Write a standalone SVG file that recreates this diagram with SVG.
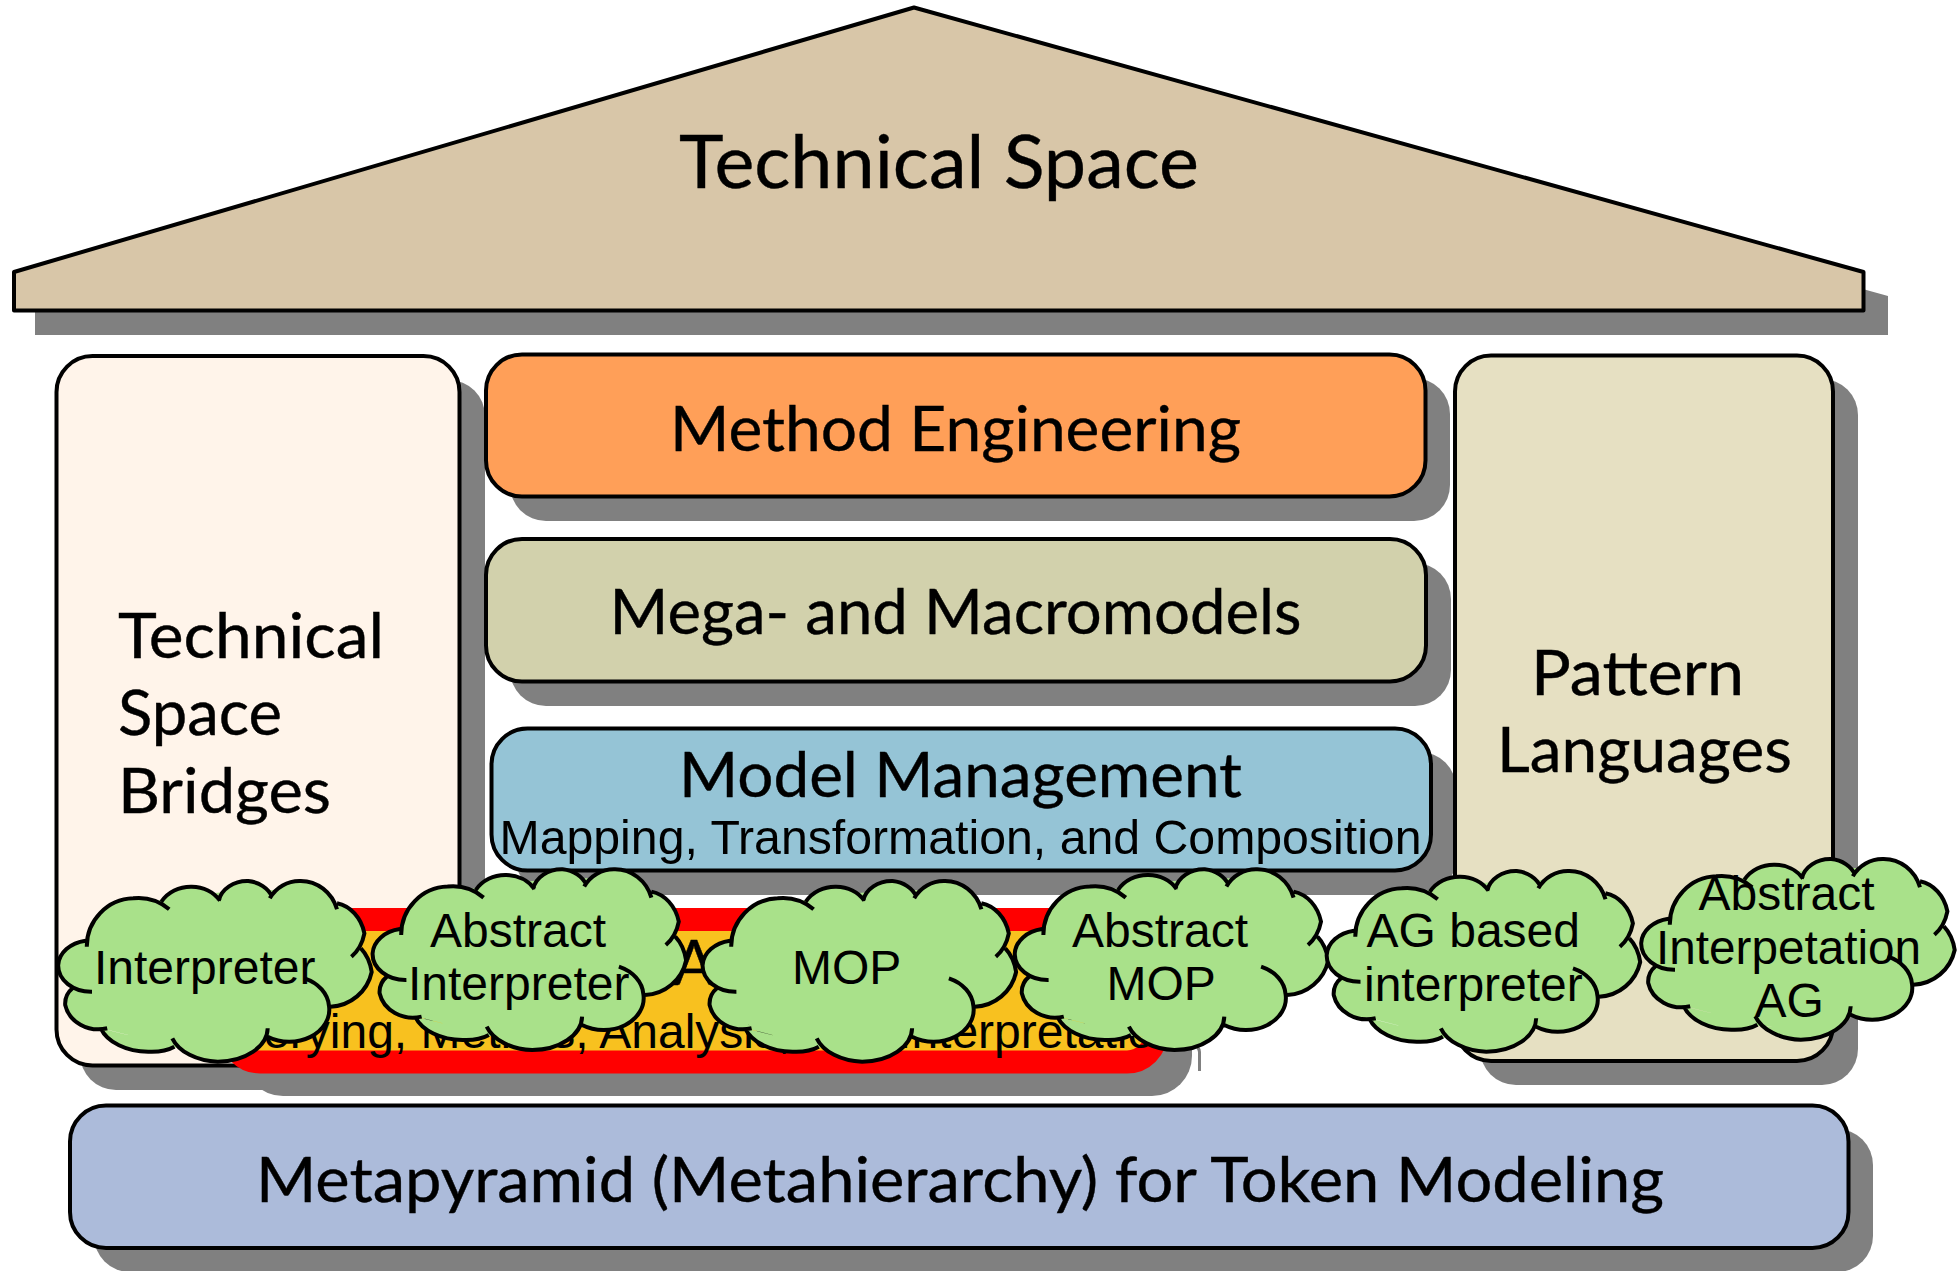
<svg xmlns="http://www.w3.org/2000/svg" width="1957" height="1271" viewBox="0 0 1957 1271">
<style>
.s{fill:#808080}
.b{stroke:#000;stroke-width:4}
.t{font-family:Lato,"Open Sans",sans-serif;font-size:62px;fill:#000;stroke:#000;stroke-width:.4}
.a{font-family:"Liberation Sans",Arial,sans-serif;font-size:48px;fill:#000}
.cf{fill:#A9E18A;stroke:none}
.cl{fill:none;stroke:#000;stroke-width:4}
</style>
<defs>
<path id="fill" d="M86.800 946.700A48 48 0 0 1 133.200 898.300A48 48 0 0 1 169.200 909.300ZM161.400 901.700A34 30 0 0 1 191.800 886.700A34 30 0 0 1 220 900.700ZM218.700 900.700A29 24 0 0 1 248.200 881A29 24 0 0 1 272 896.700ZM269.800 898.300A34 34 0 0 1 300.200 881A38 40 0 0 1 337 909.300ZM337 903.300A34 40 0 0 1 364.400 933.300A34 40 0 0 1 351.400 956.700ZM360.900 948.300A30 40 0 0 1 371.700 972A44 44 0 0 1 330.500 1006.700ZM304.500 978.300A40 32 0 0 1 329 1006A40 32 0 0 1 267.700 1036.700ZM267.700 1028.300A50 34 0 0 1 217.800 1061.700A50 34 0 0 1 172.300 1038.300ZM174.400 1046.700A30 14 0 0 1 148.400 1051.700A50 34 0 0 1 100.700 1028.300ZM107.200 1028.300A34 30 0 0 1 65.200 1005A20 20 0 0 1 72.500 988.300ZM92 991.700A33 26 0 0 1 58.200 965A33 26 0 0 1 85.500 940.700ZM95 930L130 905 192 895 248 890 300 890 345 920 360 970 340 1000 310 1020 280 1030 218 1052 150 1045 95 1020 75 1000 70 965ZM87 947L161 902 220 901 270 898 337 904 361 948 330 1007 268 1037 268 1028 172 1038 175 1047 101 1028 107 1028 73 988 92 992 85 941Z"/>
<path id="lobes" d="M86.800 946.700A48 48 0 0 1 133.200 898.300A48 48 0 0 1 169.200 909.300M161.400 901.700A34 30 0 0 1 191.800 886.700A34 30 0 0 1 220 900.700M218.700 900.700A29 24 0 0 1 248.200 881A29 24 0 0 1 272 896.700M269.800 898.300A34 34 0 0 1 300.200 881A38 40 0 0 1 337 909.300M337 903.300A34 40 0 0 1 364.400 933.300A34 40 0 0 1 351.400 956.700M360.900 948.300A30 40 0 0 1 371.700 972A44 44 0 0 1 330.500 1006.700M304.500 978.300A40 32 0 0 1 329 1006A40 32 0 0 1 267.700 1036.700M267.700 1028.300A50 34 0 0 1 217.800 1061.700A50 34 0 0 1 172.300 1038.300M174.400 1046.700A30 14 0 0 1 148.400 1051.700A50 34 0 0 1 100.700 1028.300M107.200 1028.300A34 30 0 0 1 65.200 1005A20 20 0 0 1 72.500 988.300M92 991.700A33 26 0 0 1 58.200 965A33 26 0 0 1 85.500 940.700"/>
<g id="cloud"><use href="#fill" class="cf"/><use href="#lobes" class="cl"/></g>
</defs>
<g id="roof">
<path class="s" d="M937 32L1888 296V335H35V297Z"/>
<path class="b" fill="#D8C6A8" stroke-linejoin="round" d="M914 7.500L1863.500 272V310.500H14V272Z"/>
<text class="t" x="679" y="188" style="font-size:74px" textLength="520" lengthAdjust="spacingAndGlyphs">Technical Space</text>
</g>
<g id="bridges">
<rect class="s" x="80" y="380" width="405" height="710" rx="36"/>
<rect class="b" fill="#FFF4EA" x="56.500" y="356" width="403" height="709.500" rx="36"/>
<text class="t" x="118" y="658" textLength="266" lengthAdjust="spacingAndGlyphs">Technical</text>
<text class="t" x="118" y="735" textLength="164" lengthAdjust="spacingAndGlyphs">Space</text>
<text class="t" x="118" y="813" textLength="213" lengthAdjust="spacingAndGlyphs">Bridges</text>
</g>
<g id="method">
<rect class="s" x="510" y="378" width="940" height="143" rx="36"/>
<rect class="b" fill="#FF9F58" x="486" y="354.500" width="939.500" height="142" rx="36"/>
<text class="t" x="670" y="451" textLength="571" lengthAdjust="spacingAndGlyphs">Method Engineering</text>
</g>
<g id="mega">
<rect class="s" x="510" y="563" width="941" height="143" rx="36"/>
<rect class="b" fill="#D2D1AC" x="486" y="539" width="940" height="142.500" rx="36"/>
<text class="t" x="609.500" y="634" textLength="692" lengthAdjust="spacingAndGlyphs">Mega- and Macromodels</text>
</g>
<g id="management">
<rect class="s" x="516" y="752" width="940" height="143" rx="36"/>
<rect class="b" fill="#95C4D6" x="491.500" y="728.500" width="939.500" height="142" rx="36"/>
<text class="t" x="679" y="796.500" textLength="563" lengthAdjust="spacingAndGlyphs">Model Management</text>
<text class="a" x="499.500" y="854" textLength="922" lengthAdjust="spacingAndGlyphs">Mapping, Transformation, and Composition</text>
</g>
<g id="patterns">
<rect class="s" x="1480" y="379" width="378" height="706" rx="36"/>
<rect class="b" fill="#E6E0C2" x="1455" y="355.500" width="378" height="705.500" rx="36"/>
<text class="t" x="1531" y="695" textLength="213" lengthAdjust="spacingAndGlyphs">Pattern</text>
<text class="t" x="1497" y="771.500" textLength="295" lengthAdjust="spacingAndGlyphs">Languages</text>
</g>
<g id="analysis">
<path d="M1199.500 1071V1052Q1199 1046 1192 1044" fill="none" stroke="#808080" stroke-width="3"/>
<rect class="s" x="243" y="931" width="949" height="165" rx="40"/>
<rect fill="#F8C11F" stroke="#FF0000" stroke-width="23" x="231" y="919.500" width="925" height="142.500" rx="29"/>
<text class="t" x="673" y="985">A</text>
<text class="a" x="690" y="1048" text-anchor="middle">Querying, Metrics, Analysis, and Interpretation</text>
</g>
<g id="metapyramid">
<rect class="s" x="94" y="1129" width="1779" height="143" rx="36"/>
<rect class="b" fill="#ACBBDA" x="70" y="1105.500" width="1778.500" height="142.500" rx="36"/>
<text class="t" x="256" y="1201.500" textLength="1408" lengthAdjust="spacingAndGlyphs">Metapyramid (Metahierarchy) for Token Modeling</text>
</g>
<g id="c-interpreter"><use href="#cloud"/><text class="a" x="94" y="984">Interpreter</text></g>
<g id="c-abstract-interpreter"><use href="#cloud" transform="translate(314.400 -11.700)"/><text class="a" x="430" y="946.700">Abstract</text><text class="a" x="408" y="1000">Interpreter</text></g>
<g id="c-mop"><use href="#cloud" transform="translate(644.400 0)"/><text class="a" x="792" y="984">MOP</text></g>
<g id="c-abstract-mop"><use href="#cloud" transform="translate(956.600 -11.700)"/><text class="a" x="1072" y="946.700">Abstract</text><text class="a" x="1106.500" y="1000">MOP</text></g>
<g id="c-ag-interpreter"><use href="#cloud" transform="translate(1268.500 -10)"/><text class="a" x="1366.500" y="946.700">AG based</text><text class="a" x="1364" y="1001">interpreter</text></g>
<g id="c-abstract-ag"><use href="#cloud" transform="translate(1583 -22)"/><text class="a" x="1698.500" y="910">Abstract</text><text class="a" x="1656" y="964" textLength="265" lengthAdjust="spacingAndGlyphs">Interpetation</text><text class="a" x="1754.500" y="1016.700">AG</text></g>
<g id="connectors"/>
</svg>
